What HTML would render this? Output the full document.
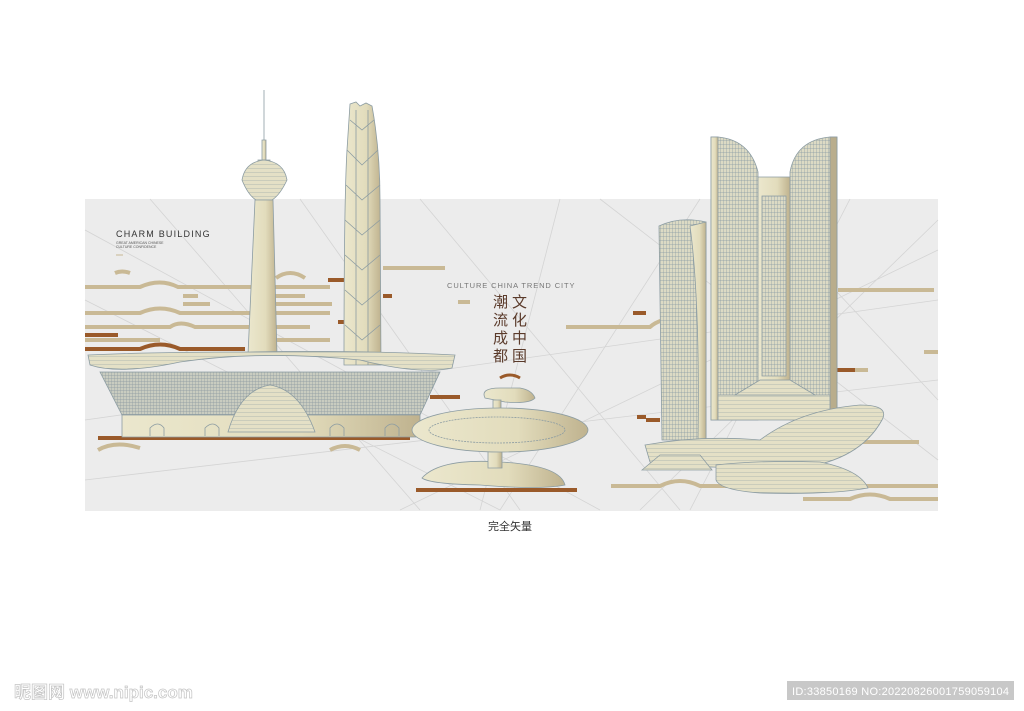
<!DOCTYPE html>
<html><head><meta charset="utf-8"><style>
html,body{margin:0;padding:0;background:#fff;width:1024px;height:711px;overflow:hidden}
svg{display:block}
</style></head><body>
<svg width="1024" height="711" viewBox="0 0 1024 711" xmlns="http://www.w3.org/2000/svg">
<defs>
<linearGradient id="g" x1="0" x2="1" y1="0" y2="0"><stop offset="0" stop-color="#ebe7cd"/><stop offset="0.6" stop-color="#e2dcbc"/><stop offset="1" stop-color="#bfb28e"/></linearGradient>
<pattern id="grid" width="3" height="4" patternUnits="userSpaceOnUse"><rect width="3" height="4" fill="#dcdac4"/><path d="M0 0H3M0 0V4" stroke="#8799a4" stroke-width="0.7"/></pattern>
<pattern id="grid2" width="3" height="3" patternUnits="userSpaceOnUse"><rect width="3" height="3" fill="#c9ccc0"/><path d="M0 0H3M0 0V3" stroke="#8a98a0" stroke-width="0.7"/></pattern>
<pattern id="hl" width="6" height="4" patternUnits="userSpaceOnUse"><rect width="6" height="4" fill="#e4e0c6"/><path d="M0 0H6" stroke="#8c9ca2" stroke-width="0.6"/></pattern>
</defs>
<rect x="85" y="199" width="853" height="312" fill="#ececec"/>
<g stroke="#d4d4d4" stroke-width="0.8" fill="none">
<path d="M85 230L600 510M150 199L420 510M300 199L520 510M560 199L480 510M700 199L500 510M420 199L680 510M85 420L938 300M85 480L938 380M600 199L938 460M850 199L690 510M938 220L640 510M85 300L500 510M938 250L400 510M750 199L938 400"/>
</g>
<g fill="none" stroke-width="4">
<g stroke="#c9b995">
<path d="M85 287H140Q160 278 178 287H330"/>
<path d="M183 296H198M183 304H210M272 296H305M272 304H332"/>
<path d="M85 313H140Q160 304 180 313H330"/>
<path d="M85 327H170Q180 320 195 327H310"/>
<path d="M85 340H160M272 340H330"/>
<path d="M383 268H445M458 302H470"/>
<path d="M566 327H650Q660 318 680 318"/>
<path d="M838 290H934M924 352H938M855 370H868M862 442H919"/>
<path d="M611 486H660Q680 476 700 486H938M803 499H850Q870 490 890 499H938"/>
<path d="M98 450Q115 440 140 448M330 450Q345 442 360 450M115 273Q122 270 130 273M276 278Q290 268 305 278"/>
</g>
<g stroke="#9a5a2a">
<path d="M85 335H118M85 349H140Q160 340 180 349H245M328 280H345M383 296H392M338 322H345M430 397H460"/>
<path d="M98 438H410M416 490H577M633 313H646M637 417H646M646 420H660M837 370H855"/>
<path d="M500 378Q510 372 520 378" stroke-width="3"/>
</g>
</g>
<g stroke="#8c9ca2" stroke-width="0.8" fill="url(#g)">
<path d="M264 90V140M262 140h4v20h-4z"/>
<path d="M258 160h12v4h-12z"/>
<path d="M242 180Q245 162 264 160Q284 162 287 180Q280 195 272 200H256Q248 195 242 180z" fill="url(#hl)"/>
<path d="M255 200H273L277 355H248z"/>
</g>
<g stroke="#8c9ca2" stroke-width="0.8">
<path d="M350 104L356 102L360 106L366 103L372 106Q380 150 380 200L381 365H344Q344 200 347 150z" fill="url(#g)"/>
<path d="M350 120L362 130L374 120M347 150L362 165L378 150M346 185L362 200L380 185M345 220L362 235L380 220M345 255L362 270L380 255M345 290L362 305L380 290M345 325L362 340L380 325M356 110V365M368 110V365" fill="none"/>
</g>
<g stroke="#8c9ca2" stroke-width="0.8">
<path d="M100 372L122 415H420L440 372z" fill="url(#grid2)"/>
<path d="M88 355Q150 352 250 352Q360 350 455 355L452 368Q420 375 360 360Q260 350 180 362Q120 375 90 365z" fill="url(#hl)"/>
<path d="M122 415H420V437H122z" fill="url(#g)"/>
<path d="M228 432Q240 390 270 385Q300 390 315 432z" fill="url(#hl)"/>
<path d="M150 436V428Q158 420 164 428V436M205 436V428Q213 420 219 428V436M330 436V428Q337 420 344 428V436M385 436V428Q392 420 399 428V436" fill="none"/>
</g>
<g stroke="#8c9ca2" stroke-width="0.8" fill="url(#g)">
<path d="M485 398Q480 388 500 388H520Q532 390 535 398Q530 404 505 402z"/>
<path d="M493 400h8v20h-8z"/>
<path d="M422 478Q440 458 500 462Q560 465 565 485Q540 490 480 485Q430 484 422 478z"/>
<path d="M488 446h14v22h-14z"/>
<ellipse cx="500" cy="430" rx="88" ry="22"/>
<ellipse cx="497" cy="430" rx="68" ry="13" fill="none" stroke-dasharray="2 1"/>
</g>
<g stroke="#8c9ca2" stroke-width="0.8">
<path d="M659 226Q680 216 706 222V440H662z" fill="url(#grid)"/>
<path d="M690 226Q700 300 698 440H706V222z" fill="url(#g)"/>
<path d="M711 137H718Q750 140 758 172V420H711z" fill="url(#grid)"/>
<path d="M711 137h7v283h-7z" fill="url(#g)"/>
<path d="M837 137H830Q796 140 790 172V420H837z" fill="url(#grid)"/>
<path d="M830 137h7v283h-7z" fill="#b9ad8c"/>
<path d="M758 177h32v210h-32z" fill="url(#g)"/>
<path d="M762 196h24v180h-24z" fill="url(#grid)"/>
<path d="M718 395H830V420H718z" fill="url(#hl)"/>
<path d="M735 395L760 380H790L815 395z" fill="url(#hl)"/>
<path d="M645 445Q700 435 760 440Q800 410 860 405Q890 405 882 420Q860 460 800 468Q720 470 650 462z" fill="url(#hl)"/>
<path d="M642 470L660 455H700L712 470z" fill="url(#hl)"/>
<path d="M716 465Q760 460 820 462Q860 470 868 488Q830 495 760 493Q720 490 716 480z" fill="url(#hl)"/>
</g>
<g font-family="Liberation Sans, sans-serif">
<text x="116" y="237" font-size="9" letter-spacing="1.2" fill="#333">CHARM BUILDING</text>
<text x="116" y="244" font-size="3.5" fill="#555">GREAT AMERICAN CHINESE</text>
<text x="116" y="248" font-size="3.5" fill="#555">CULTURE CONFIDENCE</text>
<path d="M116 255h7" stroke="#c9b995" stroke-width="1"/>
<text x="447" y="288" font-size="7.5" letter-spacing="0.9" fill="#777">CULTURE CHINA TREND CITY</text>
</g>
<g font-family="Liberation Sans, 'Noto Sans CJK SC', sans-serif" font-size="15" fill="#5a3a2a">
<text x="493" y="307">潮</text><text x="493" y="325">流</text><text x="493" y="343">成</text><text x="493" y="361">都</text>
<text x="512" y="307">文</text><text x="512" y="325">化</text><text x="512" y="343">中</text><text x="512" y="361">国</text>
</g>
<text x="488" y="530" font-family="Liberation Sans, 'Noto Sans CJK SC', sans-serif" font-size="11" fill="#333">完全矢量</text>
<text x="14" y="698" font-family="Liberation Sans, 'Noto Sans CJK SC', sans-serif" font-size="17" font-weight="bold" fill="#fff" stroke="#c4c4c4" stroke-width="0.7">昵图网 www.nipic.com</text>
<rect x="787" y="681" width="227" height="19" fill="#c8c8c8"/>
<text x="792" y="695" font-family="Liberation Sans, sans-serif" font-size="11" fill="#fff" textLength="217">ID:33850169 NO:20220826001759059104</text>
</svg>
</body></html>
